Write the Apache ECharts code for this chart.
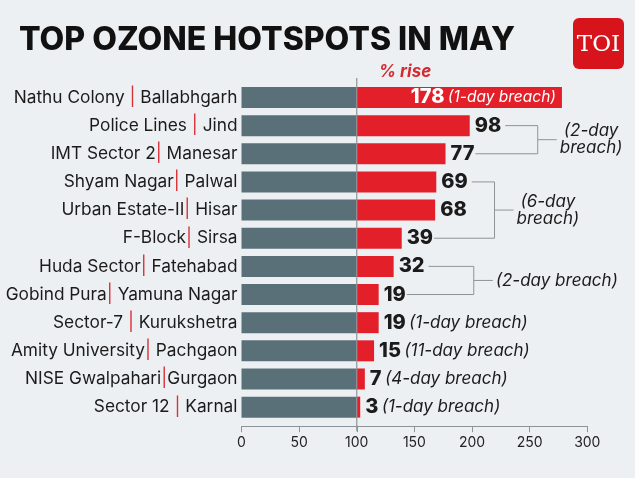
<!DOCTYPE html>
<html>
<head>
<meta charset="utf-8">
<script src="https://cdn.jsdelivr.net/npm/echarts@6/dist/echarts.min.js"></script>
<style>
  html, body { margin: 0; padding: 0; background: #edf0f3; }
  #chart { width: 635px; height: 478px; }
</style>
</head>
<body>
<div id="chart"></div>
<script>
// stations, top to bottom
var places = [
    'Nathu Colony | Ballabhgarh',
    'Police Lines | Jind',
    'IMT Sector 2| Manesar',
    'Shyam Nagar| Palwal',
    'Urban Estate-II| Hisar',
    'F-Block| Sirsa',
    'Huda Sector| Fatehabad',
    'Gobind Pura| Yamuna Nagar',
    'Sector-7 | Kurukshetra',
    'Amity University| Pachgaon',
    'NISE Gwalpahari|Gurgaon',
    'Sector 12 | Karnal'
];
// the grey part: the 100 baseline
var base = [100, 100, 100, 100, 100, 100, 100, 100, 100, 100, 100, 100];
// % rise (red part)
var rise = [178, 98, 77, 69, 68, 39, 32, 19, 19, 15, 7, 3];
// breach note written next to single bars
var notes = ['(1-day breach)', '', '', '', '', '', '', '', '(1-day breach)', '(11-day breach)', '(4-day breach)', '(1-day breach)'];
// bracketed notes shared by several bars (row indexes)
var groupRows = [[1, 2], [3, 4, 5], [6, 7]];
var groupNotes = ['(2-day\nbreach)', '(6-day\nbreach)', '(2-day breach)'];
var xTicks = [0, 50, 100, 150, 200, 250, 300];

var FONT = 'Inter, "Open Sans", sans-serif';
var GREY = '#5a7079';
var RED = '#e3202a';
var INK = '#1b1b1b';
var LINE = '#8e9398';

var chart = echarts.init(document.getElementById('chart'));

var redData = rise.map(function(v, i) {
    var inside = i === 0;
    return {
        value: v,
        label: {
            position: inside ? 'insideRight' : 'right',
            distance: inside ? 6 : 5,
            rich: {
                n: { fontFamily: FONT, fontWeight: 800, fontSize: 20, color: inside ? '#fff' : INK },
                i: { fontFamily: FONT, fontStyle: 'italic', fontSize: inside ? 15.5 : 17, color: inside ? '#fff' : INK }
            }
        }
    };
});

var option = {
    backgroundColor: '#edf0f3',
    animation: false,
    grid: { left: 241.5, right: 47.7, top: 83.4, bottom: 56.8 },
    xAxis: {
        type: 'value',
        min: 0,
        max: 300,
        interval: 50,
        offset: 5,
        splitLine: { show: false },
        axisLine: { show: true, lineStyle: { color: LINE, width: 1 } },
        axisTick: { show: true, length: 6, lineStyle: { color: LINE } },
        axisLabel: {
            margin: 10, fontSize: 14, color: '#222', fontFamily: FONT,
            formatter: function(v) { return xTicks.indexOf(v) > -1 ? String(v) : ''; }
        }
    },
    yAxis: {
        type: 'category',
        inverse: true,
        data: places,
        axisLine: { show: false },
        axisTick: { show: false },
        axisLabel: {
            margin: 4,
            formatter: function(v) {
                var k = v.indexOf('|');
                return '{t|' + v.slice(0, k) + '}{p||}{t|' + v.slice(k + 1) + '}';
            },
            rich: {
                t: { fontFamily: FONT, fontSize: 17.3, color: INK },
                p: { fontFamily: FONT, fontSize: 18, color: '#d63038' }
            }
        }
    },
    series: [{
        name: 'base',
        type: 'bar',
        stack: 'all',
        barWidth: 21,
        itemStyle: { color: GREY },
        data: base
    }, {
        name: 'rise',
        type: 'bar',
        stack: 'all',
        barWidth: 21,
        itemStyle: { color: RED },
        label: {
            show: true,
            formatter: function(p) {
                var note = notes[p.dataIndex];
                return '{n|' + rise[p.dataIndex] + '}' + (note ? ' {i|' + note + '}' : '');
            }
        },
        data: redData
    }]
};

chart.setOption(option);

// --- annotations: title, logo, baseline, brackets ---
var ctx = document.createElement('canvas').getContext('2d');
function textW(font, s) { ctx.font = font; return ctx.measureText(s).width; }

function px(v, row) { return chart.convertToPixel({ gridIndex: 0 }, [v, row]); }

// right end of the number label of a row
function labelEnd(row) {
    var p = px(base[row] + rise[row], row);
    return p[0] + 5 + textW('800 20px ' + FONT, String(rise[row]));
}

var bracketAt = [257, 219.5, 201.5]; // x (axis units) of each bracket's spine
var g = [];

g.push({
    type: 'text', left: 19, top: 24,
    style: { text: 'TOP OZONE HOTSPOTS IN MAY', font: '800 32px ' + FONT, fill: '#111' }
});
g.push({
    type: 'rect', shape: { x: 573, y: 18, width: 51, height: 51, r: 6 },
    style: { fill: '#d7141c' }
});
g.push({
    type: 'text', x: 598.5, y: 45,
    style: { text: 'TOI', font: '23px "DejaVu Serif", serif', fill: '#fff', align: 'center', verticalAlign: 'middle' }
});

var p100top = px(100, 0);
var p100bot = px(100, places.length - 1);
g.push({
    type: 'text', x: 405, y: 72,
    style: { text: '% rise', font: 'italic 700 17px ' + FONT, fill: '#d42a30', align: 'center', verticalAlign: 'middle' }
});
g.push({
    type: 'line', z: 10,
    shape: { x1: p100top[0], y1: 78, x2: p100top[0], y2: p100bot[1] + 24 },
    style: { stroke: LINE, lineWidth: 1.2 }
});

groupRows.forEach(function(rows, k) {
    var first = rows[0], last = rows[rows.length - 1];
    var bx = px(bracketAt[k], first)[0];
    var yTop = px(0, first)[1], yBot = px(0, last)[1];
    var yMid = (yTop + yBot) / 2;
    var ls = { stroke: LINE, lineWidth: 1 };
    g.push({ type: 'polyline', shape: { points: [[labelEnd(first) + 4, yTop], [bx, yTop], [bx, yBot], [labelEnd(last) + 1, yBot]] }, style: ls });
    g.push({ type: 'line', shape: { x1: bx, y1: yMid, x2: bx + 19, y2: yMid }, style: ls });
    var font = 'italic 17px ' + FONT;
    var w = Math.max.apply(null, groupNotes[k].split('\n').map(function(s) { return textW(font, s); }));
    g.push({
        type: 'text', x: bx + 22 + w / 2, y: yMid,
        style: { text: groupNotes[k], font: font, fill: INK, align: 'center', verticalAlign: 'middle', lineHeight: 17 }
    });
});

chart.setOption({ graphic: g });
</script>
</body>
</html>
